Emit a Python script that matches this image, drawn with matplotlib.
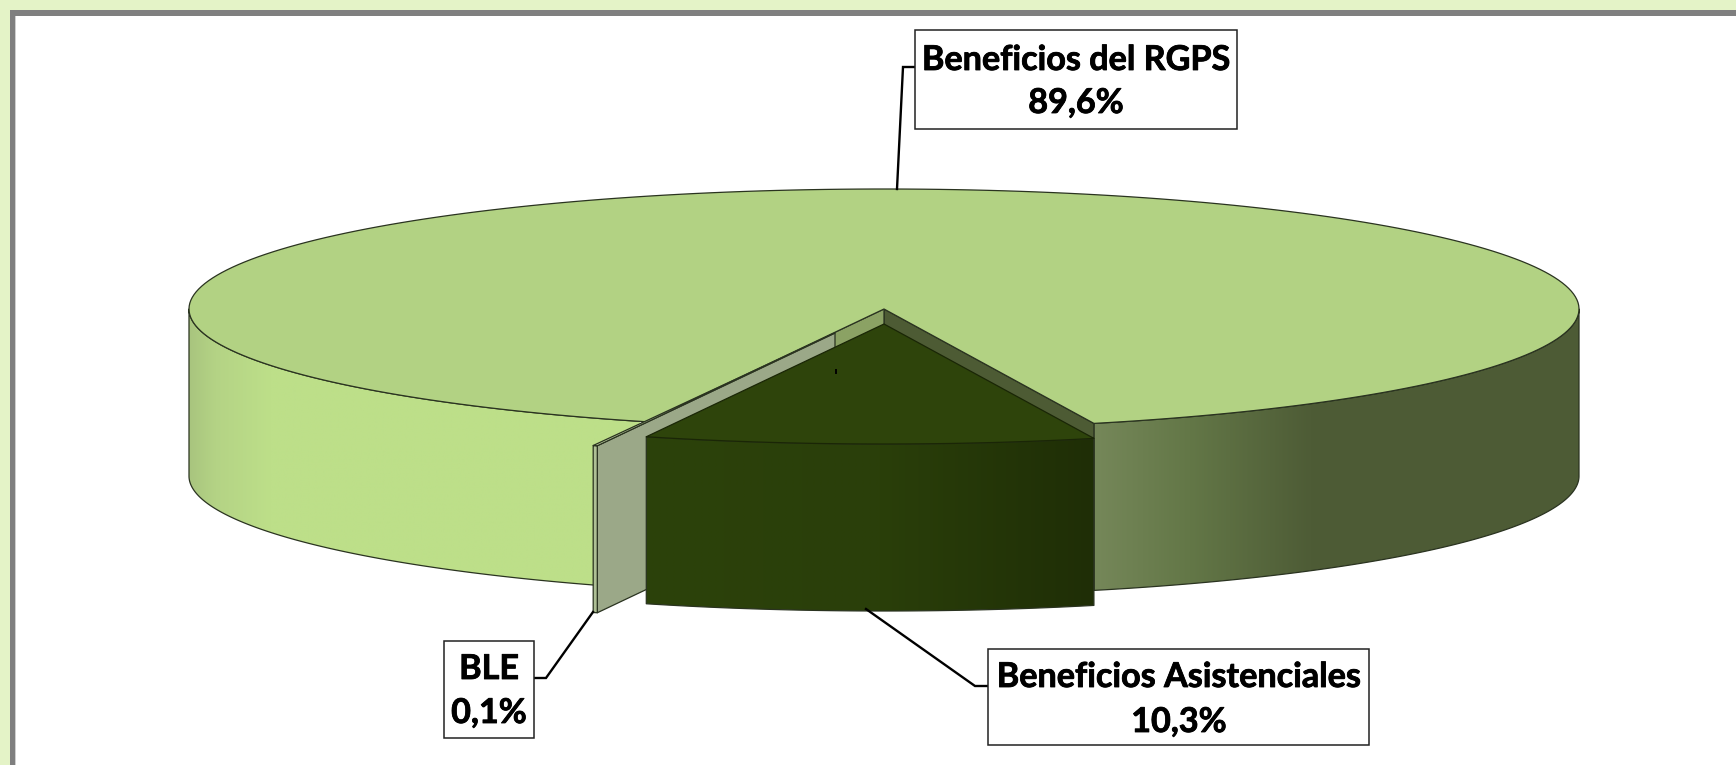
import numpy as np
import matplotlib
matplotlib.use("Agg")
import matplotlib.pyplot as plt
import matplotlib.patheffects as pe
from matplotlib.colors import LinearSegmentedColormap
from matplotlib.patches import Polygon, Rectangle

# ---- data ----
categories = ["Beneficios del RGPS", "BLE", "Beneficios Asistenciales"]
shares = [89.6, 0.1, 10.3]
share_labels = ["89,6%", "0,1%", "10,3%"]

# ---- drawing geometry (pixels) ----
W, H = 1736, 765
CX, CY, RX, RY, DEPTH = 884, 309, 695, 120, 167
START = -20.0            # where the exploded slice starts, degrees from the front
GAP = 0.5                # slight opening of the cut, degrees
OFF_DARK = (0, 15)
OFF_BLE = (-49, 24)
EDGE = "#2a3320"

plt.rcParams["font.family"] = ["Lato", "DejaVu Sans"]
fig = plt.figure(figsize=(W / 100, H / 100), dpi=100, facecolor="white")
ax = fig.add_axes([0, 0, 1, 1])
ax.set_axis_off()


def arc(t0, t1, off=(0, 0), dy=0, n=240):
    t = np.radians(np.linspace(t0, t1, n))
    return np.column_stack([CX + off[0] + RX * np.sin(t),
                            CY + off[1] + dy + RY * np.cos(t)])


def poly(pts, fc, ec=EDGE, lw=0.9, z=1):
    p = Polygon(pts, closed=True, fc=fc, ec=ec, lw=lw, zorder=z, joinstyle="round")
    ax.add_patch(p)
    return p


def band(t0, t1, off=(0, 0)):
    return np.vstack([arc(t0, t1, off), arc(t1, t0, off, DEPTH)])


def gradient(pts, stops, z):
    poly(pts, "none", z=z + 0.1)
    ys = pts[:, 1]
    x0, x1 = stops[0][0], stops[-1][0]
    cmap = LinearSegmentedColormap.from_list(
        "g", [((x - x0) / (x1 - x0), c) for x, c in stops], N=512)
    im = ax.imshow(np.linspace(0, 1, 512)[None, :], cmap=cmap, aspect="auto",
                   extent=(x0, x1, ys.max(), ys.min()), zorder=z,
                   interpolation="bilinear")
    im.set_clip_path(Polygon(pts, closed=True, transform=ax.transData))


# degrees per share
deg = [s / sum(shares) * 360 for s in shares]
t_dark0, t_dark1 = START, START + deg[2] + GAP
t_ble0, t_ble1 = START - deg[1], START

# background and frame
ax.add_patch(Rectangle((0, 0), W, 10, fc="#e4f3c7", ec="none", zorder=0))
ax.add_patch(Rectangle((0, 0), 9.5, H, fc="#e4f3c7", ec="none", zorder=0))
ax.add_patch(Rectangle((9.5, 10), W, 5.5, fc="#7f7f7f", ec="none", zorder=0.1))
ax.add_patch(Rectangle((9.5, 10), 5, H, fc="#7f7f7f", ec="none", zorder=0.1))
ax.add_patch(Rectangle((14.5, 15.5), 1, H, fc="#cfcfcf", ec="none", zorder=0.1))

# main slice: outer wall
gradient(band(-90, t_ble0),
         [(188, "#a8c47e"), (215, "#b4d385"), (270, "#bddf89"), (640, "#bddf89")], 1)
gradient(band(t_dark1, 90),
         [(1090, "#76885a"), (1190, "#637747"), (1310, "#4e5c36"), (1582, "#4d5b35")], 1)

# main slice: cut walls
apex = np.array([CX, CY])
rim_l = arc(START, START, n=1)[0]
rim_r = arc(t_dark1, t_dark1, n=1)[0]
down = np.array([0, DEPTH])
poly([apex, rim_r, rim_r + down, apex + down], "#4d5b34", z=2)
poly([apex, rim_l, rim_l + down, apex + down], "#8ba264", z=2)

# main slice: top face
top = np.vstack([[apex], arc(t_dark1, 360 + START)])
poly(top, "#b2d283", z=3)

# BLE slice
b_apex = apex + np.array(OFF_BLE)
b0 = arc(t_ble0, t_ble0, OFF_BLE, n=1)[0]
b1 = arc(t_ble1, t_ble1, OFF_BLE, n=1)[0]
poly([b_apex, b1, b1 + down, b_apex + down], "#9ba888", z=4)
poly(band(t_ble0, t_ble1, OFF_BLE), "#aebf95", z=4.1)
poly([b_apex, b0, b1], "#c3d6a5", z=4.2)

# Asistenciales slice
d_apex = apex + np.array(OFF_DARK)
gradient(band(t_dark0, t_dark1, OFF_DARK),
         [(646, "#2c420a"), (880, "#2a3f0a"), (1094, "#1f2e06")], 5)
poly(np.vstack([[d_apex], arc(t_dark0, t_dark1, OFF_DARK)]), "#2e440b",
     ec="#1a2606", z=5.5)

# small tick mark that sits on the dark slice
ax.plot([836, 836], [369.5, 373], color="black", lw=1.4, zorder=6)

# leader lines
leaders = [([897, 903, 915], [189, 67, 67]),
           ([593, 546, 535], [612, 678, 678]),
           ([866, 975, 988], [609, 686, 686])]
for xs, ys in leaders:
    ax.plot(xs, ys, color="black", lw=1.7, zorder=7, solid_joinstyle="miter")

# label boxes
boxes = [(915, 30, 322, 99), (444, 641, 90, 97), (988, 649, 381, 96)]
centres = [(1076, 70, 113), (489, 679, 723), (1179, 687, 732)]
for i, (x, y, w, h) in enumerate(boxes):
    ax.add_patch(Rectangle((x, y), w, h, fc="white", ec="#222222", lw=1.1, zorder=8))
    cx, y1, y2 = centres[i]
    for txt, yy in ((categories[i], y1), (share_labels[i], y2)):
        t = ax.text(cx, yy, txt, ha="center", va="baseline", fontsize=24.6,
                    fontweight="bold", color="black", zorder=9)
        t.set_path_effects([pe.withStroke(linewidth=0.6, foreground="black")])

ax.set_xlim(0, W)
ax.set_ylim(H, 0)
fig.savefig("out.png", dpi=100, facecolor="white")
